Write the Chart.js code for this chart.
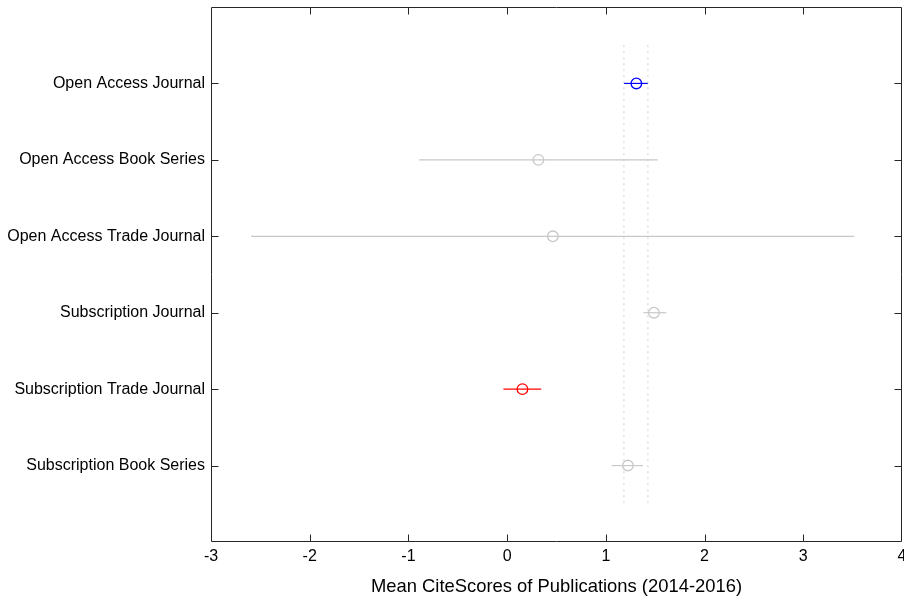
<!DOCTYPE html>
<html>
<head>
<meta charset="utf-8">
<script src="https://cdn.jsdelivr.net/npm/chart.js@4/dist/chart.umd.min.js"></script>
<style>
  html, body { margin: 0; padding: 0; background: #ffffff; }
  #wrap { width: 904px; height: 596px; }
</style>
</head>
<body>
<div id="wrap"><canvas id="c" width="904" height="596"></canvas></div>
<script>
// Publication groups, top to bottom
const groups = [
  'Open Access Journal',
  'Open Access Book Series',
  'Open Access Trade Journal',
  'Subscription Journal',
  'Subscription Trade Journal',
  'Subscription Book Series'
];
// Group means and comparison interval limits
const means = [1.309, 0.317, 0.463, 1.487, 0.155, 1.223];
const lower = [1.183, -0.890, -2.594, 1.380, -0.038, 1.058];
const upper = [1.426, 1.525, 3.516, 1.613, 0.345, 1.376];
// X axis tick values
const xTicks = [-3, -2, -1, 0, 1, 2, 3, 4];

// Colour of each group's marker: selected group blue, significantly different red
const groupColors = ['#0000ff', '#c8c8c8', '#c8c8c8', '#c8c8c8', '#ff0000', '#c8c8c8'];
const refColor = '#cfcfcf';

const datasets = [];

// Dotted reference lines at the selected group's interval limits
[lower[0], upper[0]].forEach(v => {
  datasets.push({
    type: 'line',
    data: [{x: v, y: 0.5}, {x: v, y: 6.5}],
    borderColor: refColor,
    borderWidth: 1,
    borderDash: [2, 4],
    pointRadius: 0,
    fill: false
  });
});

// Comparison intervals
groups.forEach((g, i) => {
  datasets.push({
    type: 'line',
    data: [{x: lower[i], y: i + 1}, {x: upper[i], y: i + 1}],
    borderColor: groupColors[i],
    borderWidth: 1.2,
    pointRadius: 0,
    fill: false
  });
});

// Group means
datasets.push({
  type: 'scatter',
  data: means.map((m, i) => ({x: m, y: i + 1})),
  pointStyle: 'circle',
  pointRadius: 5.3,
  pointBorderWidth: 1.3,
  pointBorderColor: groupColors,
  pointBackgroundColor: '#ffffff'
});

// Box around the plot area with inward tick marks
const boxPlugin = {
  id: 'box',
  afterDraw(chart) {
    const {ctx, chartArea: a, scales} = chart;
    const L = Math.round(a.left) + 0.5, R = Math.round(a.right) - 0.5;
    const T = Math.round(a.top) + 0.5, B = Math.round(a.bottom) - 0.5;
    const len = 7;
    ctx.save();
    ctx.strokeStyle = '#262626';
    ctx.lineWidth = 1;
    ctx.beginPath();
    ctx.rect(L, T, R - L, B - T);
    scales.x.ticks.forEach(t => {
      const px = Math.round(scales.x.getPixelForValue(t.value)) + 0.5;
      if (px <= L + 1 || px >= R - 1) return;
      ctx.moveTo(px, B); ctx.lineTo(px, B - len);
      ctx.moveTo(px, T); ctx.lineTo(px, T + len);
    });
    scales.y.ticks.forEach(t => {
      const py = Math.round(scales.y.getPixelForValue(t.value)) + 0.5;
      ctx.moveTo(L, py); ctx.lineTo(L + len, py);
      ctx.moveTo(R, py); ctx.lineTo(R - len, py);
    });
    ctx.stroke();
    ctx.restore();
  }
};

const font = "'Liberation Sans', Arial, Helvetica, sans-serif";

// Fixed axis sizes; edge label overhang is not reserved
const fixSize = (dim, size) => s => {
  s[dim] = size;
  s.paddingTop = 0; s.paddingBottom = 0; s.paddingLeft = 0; s.paddingRight = 0;
};

new Chart(document.getElementById('c'), {
  data: {datasets},
  options: {
    responsive: false,
    animation: false,
    events: [],
    layout: {autoPadding: false, padding: {top: 7, right: 2, left: 0, bottom: 0}},
    plugins: {legend: {display: false}, tooltip: {enabled: false}},
    scales: {
      x: {
        type: 'linear',
        min: -3,
        max: 4,
        afterBuildTicks: s => { s.ticks = xTicks.map(v => ({value: v})); },
        afterFit: fixSize('height', 54),
        grid: {display: false, drawTicks: false},
        border: {display: false},
        ticks: {
          padding: 5,
          color: '#000000',
          font: {family: font, size: 16},
          callback: v => String(v)
        },
        title: {
          display: true,
          text: 'Mean CiteScores of Publications (2014-2016)',
          color: '#000000',
          font: {family: font, size: 18.4},
          padding: {top: 0, bottom: -2}
        }
      },
      y: {
        type: 'linear',
        min: 0,
        max: 7,
        reverse: true,
        afterBuildTicks: s => { s.ticks = groups.map((g, i) => ({value: i + 1})); },
        afterFit: fixSize('width', 211),
        grid: {display: false, drawTicks: false},
        border: {display: false},
        ticks: {
          padding: 6,
          color: '#000000',
          font: {family: font, size: 16},
          callback: v => groups[v - 1] || ''
        }
      }
    }
  },
  plugins: [boxPlugin]
});
</script>
</body>
</html>
